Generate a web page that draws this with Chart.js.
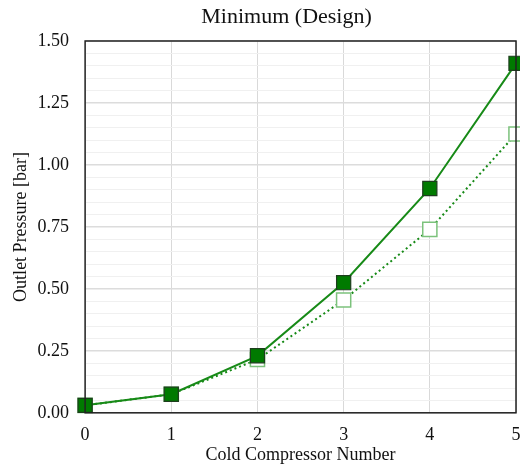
<!DOCTYPE html>
<html>
<head>
<meta charset="utf-8">
<script src="https://cdn.jsdelivr.net/npm/chart.js@4.4.0/dist/chart.umd.min.js"></script>
<style>
  html, body { margin: 0; padding: 0; background: #fff; }
  #wrap { width: 520px; height: 466px; }
</style>
</head>
<body>
<div id="wrap"><canvas id="chart"></canvas></div>
<script>
'use strict';

// compressor stage index and outlet pressures [bar]
const compressors = [0, 1, 2, 3, 4, 5];
const designPressure = [0.03, 0.075, 0.23, 0.525, 0.905, 1.41];
const lowerPressure = [0.03, 0.075, 0.215, 0.455, 0.74, 1.125];

const chartTitle = 'Minimum (Design)';
const serif = "'Liberation Serif', 'Times New Roman', serif";

const toPoints = (xs, ys) => xs.map((x, i) => ({ x: x, y: ys[i] }));
const isMajor = v => Math.abs(v / 0.25 - Math.round(v / 0.25)) < 1e-6;

// black frame around the plot area, title over the plot area
const frame = {
  id: 'frame',
  afterDatasetsDraw(chart) {
    const { ctx, chartArea: a } = chart;
    ctx.save();
    ctx.strokeStyle = '#222';
    ctx.lineWidth = 1.5;
    ctx.strokeRect(a.left, a.top, a.right - a.left, a.bottom - a.top);
    ctx.fillStyle = '#111';
    ctx.font = '22px ' + serif;
    ctx.textAlign = 'center';
    ctx.textBaseline = 'middle';
    ctx.fillText(chartTitle, (a.left + a.right) / 2 - 14, 17);
    ctx.restore();
  }
};

const ctx = document.getElementById('chart').getContext('2d');
new Chart(ctx, {
  type: 'line',
  data: {
    datasets: [
      {
        label: 'Design',
        data: toPoints(compressors, designPressure),
        borderColor: '#178a17',
        borderWidth: 2,
        pointStyle: 'rect',
        pointRadius: 10,
        pointBackgroundColor: '#007a00',
        pointBorderColor: '#1d3d1d',
        pointBorderWidth: 1.2,
        order: 0
      },
      {
        label: 'Lower',
        data: toPoints(compressors, lowerPressure),
        borderColor: '#178a17',
        borderWidth: 2,
        borderDash: [2, 3],
        pointStyle: 'rect',
        pointRadius: 10,
        pointBackgroundColor: '#fff',
        pointBorderColor: '#7cc27c',
        pointBorderWidth: 1.5,
        order: 1
      }
    ]
  },
  options: {
    responsive: true,
    maintainAspectRatio: false,
    animation: false,
    clip: false,
    layout: { autoPadding: false, padding: { left: 10, right: 4, top: 41, bottom: 0 } },
    plugins: {
      legend: { display: false },
      tooltip: { enabled: false },
      title: { display: false }
    },
    scales: {
      x: {
        type: 'linear',
        min: 0,
        max: 5,
        afterFit: s => { s.paddingRight = 0; s.paddingLeft = 0; },
        ticks: {
          stepSize: 1,
          color: '#111',
          font: { family: serif, size: 18 },
          padding: 12
        },
        grid: { color: '#d9d9d9', lineWidth: 1, drawTicks: false },
        border: { display: false },
        title: {
          display: true,
          text: 'Cold Compressor Number',
          color: '#111',
          font: { family: serif, size: 18 },
          padding: { top: -14, bottom: 0 }
        }
      },
      y: {
        min: 0,
        max: 1.5,
        ticks: {
          stepSize: 0.05,
          autoSkip: false,
          color: '#111',
          font: { family: serif, size: 18 },
          padding: 16,
          callback: v => (isMajor(v) ? v.toFixed(2) : '')
        },
        grid: {
          drawTicks: false,
          color: c => (isMajor(c.tick.value) ? '#dcdcdc' : '#f0f0f0'),
          lineWidth: c => (isMajor(c.tick.value) ? 1.5 : 1)
        },
        border: { display: false },
        title: {
          display: true,
          text: 'Outlet Pressure [bar]',
          color: '#111',
          font: { family: serif, size: 18 },
          padding: { top: 0, bottom: -10 }
        }
      }
    }
  },
  plugins: [frame]
});
</script>
</body>
</html>
